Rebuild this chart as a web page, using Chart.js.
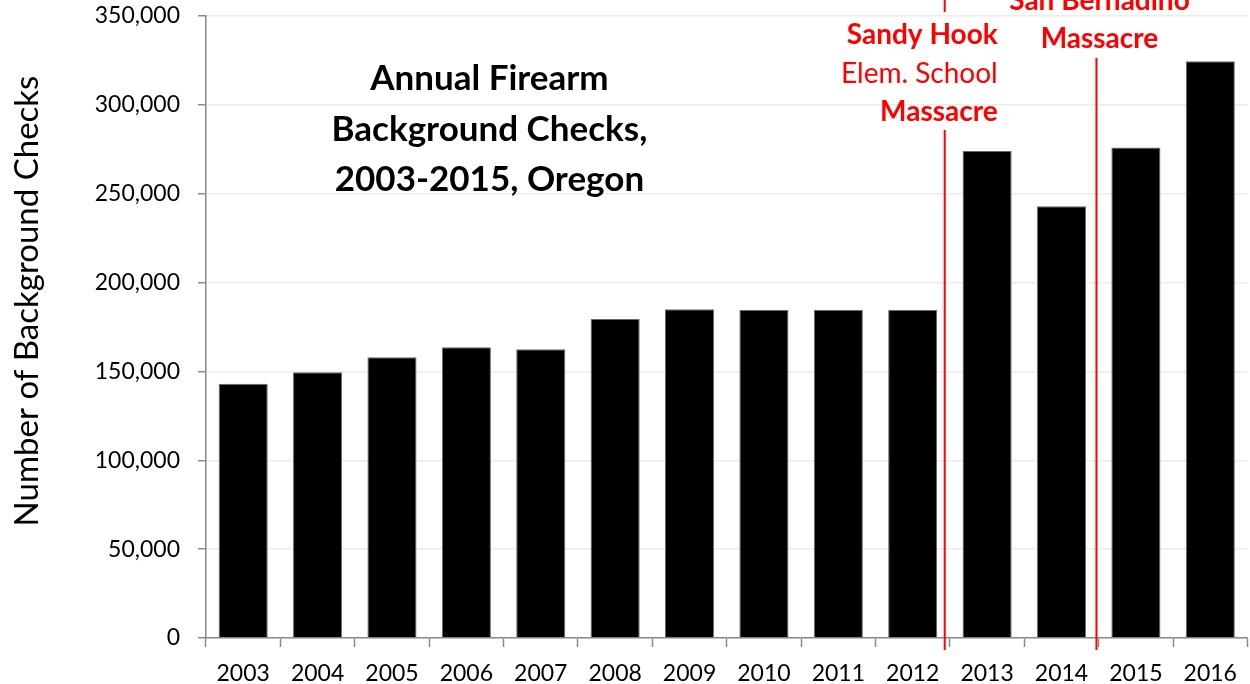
<!DOCTYPE html>
<html>
<head>
<meta charset="utf-8">
<title>Annual Firearm Background Checks, Oregon</title>
<script src="https://cdn.jsdelivr.net/npm/chart.js@4.4.0/dist/chart.umd.min.js"></script>
<style>
  html, body { margin: 0; padding: 0; background: #fff; }
  #wrap { width: 1250px; height: 684px; position: relative; }
</style>
</head>
<body>
<div id="wrap"><canvas id="checks-chart"></canvas></div>
<script>
var YEARS = ['2003', '2004', '2005', '2006', '2007', '2008', '2009', '2010',
             '2011', '2012', '2013', '2014', '2015', '2016'];
var CHECKS = [143000, 149600, 158000, 163600, 162500, 179500, 185000, 184600,
              184600, 184600, 274000, 243000, 276000, 324600];
var Y_MAX = 350000;
var Y_STEP = 50000;

var TITLE_LINES = ['Annual Firearm', 'Background Checks,', '2003-2015, Oregon'];
var Y_TITLE = 'Number of Background Checks';

// events: position as fractional category index (between two years)
var EVENTS = [
  { at: 9.43, lines: [['Sandy Hook', true], ['Elem. School', false], ['Massacre', true]] },
  { at: 11.47, lines: [['San Bernadino', true], ['Massacre', true]] },
];

var FONT = 'Lato, "Open Sans", sans-serif';
var RED = '#ff0000';
var AXIS_GRAY = '#8a8a8a';

function fmt(v) {
  return v.toLocaleString('en-US');
}

// ── Annotations plugin: title, y title, event lines ──

var annotations = {
  id: 'annotations',
  afterDatasetsDraw: function (chart) {
    var ctx = chart.ctx;
    var x = chart.scales.x;
    var area = chart.chartArea;

    ctx.save();

    // chart title
    ctx.fillStyle = '#000';
    ctx.font = 'bold 35px ' + FONT;
    ctx.textAlign = 'center';
    ctx.textBaseline = 'alphabetic';
    var tx = x.getPixelForValue(3.31);
    for (var i = 0; i < TITLE_LINES.length; i++) {
      ctx.fillText(TITLE_LINES[i], tx, area.top + 74 + i * 50.5);
    }

    // y axis title
    ctx.save();
    ctx.translate(38, area.top + 285);
    ctx.rotate(-Math.PI / 2);
    ctx.font = '33px ' + FONT;
    ctx.fillText(Y_TITLE, 0, 0);
    ctx.restore();

    // Sandy Hook
    ctx.strokeStyle = RED;
    ctx.lineWidth = 2;
    var sx = x.getPixelForValue(EVENTS[0].at);
    ctx.beginPath();
    ctx.moveTo(sx, 0);
    ctx.lineTo(sx, area.top - 4);
    ctx.moveTo(sx, area.top + 114);
    ctx.lineTo(sx, area.bottom + 12);
    ctx.stroke();

    ctx.fillStyle = RED;
    ctx.textAlign = 'right';
    var sl = EVENTS[0].lines;
    for (var j = 0; j < sl.length; j++) {
      ctx.font = (sl[j][1] ? 'bold ' : '') + '28px ' + FONT;
      ctx.fillText(sl[j][0], sx + 53, area.top + 28 + j * 38.5);
    }

    // San Bernardino
    var bx = x.getPixelForValue(EVENTS[1].at);
    ctx.beginPath();
    ctx.moveTo(bx, area.top + 42);
    ctx.lineTo(bx, area.bottom + 12);
    ctx.stroke();

    ctx.textAlign = 'center';
    var bl = EVENTS[1].lines;
    for (var k = 0; k < bl.length; k++) {
      ctx.font = (bl[k][1] ? 'bold ' : '') + '28px ' + FONT;
      ctx.fillText(bl[k][0], bx + 3, area.top - 6 + k * 38);
    }

    ctx.restore();
  },
};

// ── Chart ──

new Chart(document.getElementById('checks-chart').getContext('2d'), {
  type: 'bar',
  data: {
    labels: YEARS,
    datasets: [{
      label: 'Background checks',
      data: CHECKS,
      backgroundColor: '#000',
      borderColor: '#6a6a6a',
      borderWidth: 1,
      barPercentage: 0.66,
      categoryPercentage: 1.0,
    }],
  },
  options: {
    responsive: true,
    maintainAspectRatio: false,
    animation: false,
    layout: { padding: { top: 16, right: 1, left: 0, bottom: 0 } },
    plugins: {
      legend: { display: false },
      tooltip: { enabled: false },
    },
    scales: {
      x: {
        grid: {
          offset: true,
          drawOnChartArea: false,
          drawTicks: true,
          tickLength: 9,
          tickColor: AXIS_GRAY,
          tickWidth: 1.5,
        },
        border: { color: AXIS_GRAY, width: 1.5 },
        ticks: {
          color: '#000',
          font: { family: FONT, size: 23 },
          maxRotation: 0,
          padding: 13,
        },
        afterFit: function (scale) { scale.height = 46; },
      },
      y: {
        min: 0,
        max: Y_MAX,
        grid: {
          color: '#ececec',
          lineWidth: 1.5,
          drawTicks: true,
          tickLength: 8,
          tickColor: AXIS_GRAY,
        },
        border: { color: AXIS_GRAY, width: 1.5 },
        ticks: {
          stepSize: Y_STEP,
          color: '#000',
          font: { family: FONT, size: 23 },
          padding: 18,
          callback: function (v) { return fmt(v); },
        },
        afterFit: function (scale) {
          scale.width = 206;
          scale.paddingTop = 0;
          scale.paddingBottom = 0;
        },
      },
    },
  },
  plugins: [annotations],
});
</script>
</body>
</html>
